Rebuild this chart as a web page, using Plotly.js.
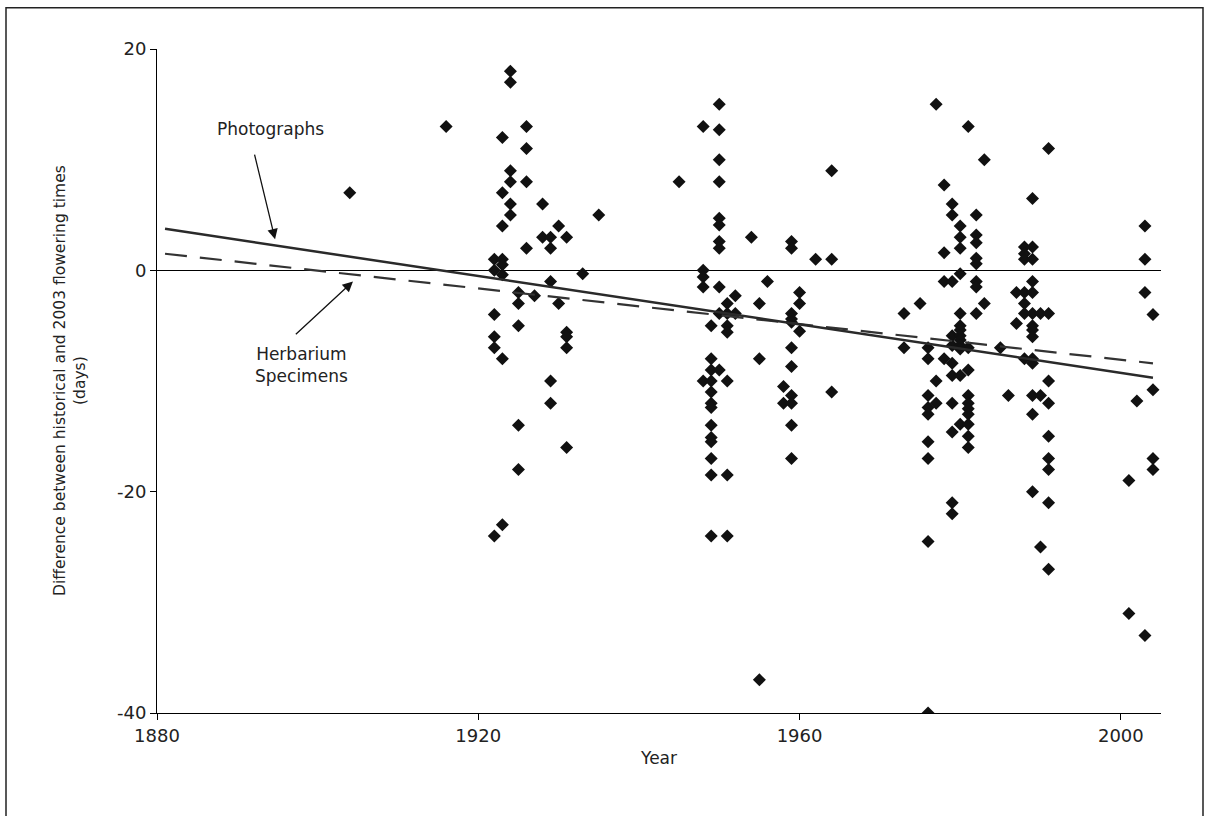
<!DOCTYPE html>
<html>
<head>
<meta charset="utf-8">
<script src="https://cdn.plot.ly/plotly-3.0.1.min.js"></script>
<style>
html,body{margin:0;padding:0;background:#fff;}
#chart{width:1209px;height:816px;}
</style>
</head>
<body>
<div id="chart"></div>
<script>
// Observations: year of record and difference (days) between historical and 2003 flowering time
const years = [
  1904, 1916,
  1922,1922,1922,1922,1922,1922,
  1923,1923,1923,1923,1923,1923,1923,1923,
  1924,1924,1924,1924,1924,1924,
  1925,1925,1925,1925,1925,
  1926,1926,1926,1926,
  1927, 1928,1928,
  1929,1929,1929,1929,1929,
  1930,1930,
  1931,1931,1931,1931,1931,
  1933, 1935, 1945,
  1948,1948,1948,1948,1948,
  1949,1949,1949,1949,1949,1949,1949,1949,1949,1949,1949,1949,1949,
  1950,1950,1950,1950,1950,1950,1950,1950,1950,1950,1950,
  1951,1951,1951,1951,1951,1951,1951,
  1952,1952, 1954,
  1955,1955,1955, 1956,
  1958,1958,
  1959,1959,1959,1959,1959,1959,1959,1959,1959,1959,1959,
  1960,1960,1960, 1962,
  1964,1964,1964,
  1973,1973, 1975,
  1976,1976,1976,1976,1976,1976,1976,1976,1976,
  1977,1977,1977,
  1978,1978,1978,1978,
  1979,1979,1979,1979,1979,1979,1979,1979,1979,1979,1979,
  1980,1980,1980,1980,1980,1980,1980,1980,1980,1980,1980,1980,1980,
  1981,1981,1981,1981,1981,1981,1981,1981,1981,1981,
  1982,1982,1982,1982,1982,1982,1982,1982,
  1983,1983, 1985, 1986,
  1987,1987,
  1988,1988,1988,1988,1988,1988,1988,
  1989,1989,1989,1989,1989,1989,1989,1989,1989,1989,1989,1989,1989,1989,
  1990,1990,1990,
  1991,1991,1991,1991,1991,1991,1991,1991,1991,
  2001,2001, 2002,
  2003,2003,2003,2003,
  2004,2004,2004,2004
];
const diffDays = [
  7, 13,
  1,0,-4,-6,-7,-24,
  12,7,4,1,0.5,-0.4,-8,-23,
  18,17,9,8,6,5,
  -2,-3,-5,-14,-18,
  13,11,8,2,
  -2.3, 6,3,
  3,2,-1,-10,-12,
  4,-3,
  3,-5.6,-6,-7,-16,
  -0.3, 5, 8,
  13,0,-0.6,-1.5,-10,
  -5,-8,-9,-10,-11,-12,-12.4,-14,-15.1,-15.5,-17,-18.5,-24,
  15,12.7,10,8,4.7,4.1,2.6,2,-1.5,-3.9,-9,
  -3,-3.9,-5,-5.6,-10,-18.5,-24,
  -2.3,-3.9, 3,
  -3,-8,-37, -1,
  -10.5,-12,
  2.6,2,-3.9,-4.4,-4.7,-7,-8.7,-11.3,-12,-14,-17,
  -2,-3,-5.5, 1,
  9,1,-11,
  -3.9,-7, -3,
  -7,-8,-11.3,-12.4,-13,-15.5,-17,-24.5,-40,
  15,-10,-12,
  7.7,1.6,-1,-8,
  6,5,-1,-5.9,-6.8,-8.4,-9.5,-12,-14.6,-21,-22,
  4,3,2,-0.3,-3.9,-5,-5.4,-5.9,-6.3,-6.8,-7.1,-9.5,-13.9,
  13,-7,-9,-11.3,-12,-12.5,-13,-13.9,-15,-16,
  5,3.2,2.5,1.1,0.6,-1,-1.5,-3.9,
  10,-3, -7, -11.3,
  -2,-4.8,
  2.1,1.5,1,-2,-3,-3.9,-8,
  6.5,2.1,1,-1,-2,-3.9,-5,-5.4,-6,-8,-8.4,-11.3,-13,-20,
  -3.9,-11.3,-25,
  11,-3.9,-10,-12,-15,-17,-18,-21,-27,
  -19,-31, -11.8,
  4,1,-2,-33,
  -4,-10.8,-17,-18
];

// Fitted trend lines (end points)
const fitYears = [1881, 2004];
const photoFit = [3.75, -9.7];
const herbFit = [1.5, -8.4];

// Tick labels
const xTicks = [1880, 1920, 1960, 2000];
const yTicks = [-40, -20, 0, 20];

const FONT = 'DejaVu Sans, Verdana, sans-serif';

const traces = [
  {
    x: years, y: diffDays, type: 'scatter', mode: 'markers',
    marker: {symbol: 'diamond', size: 10, color: '#111'},
    hoverinfo: 'x+y', showlegend: false
  },
  {
    x: fitYears, y: herbFit, type: 'scatter', mode: 'lines',
    line: {color: '#333', width: 2.2, dash: '22px,13px'},
    showlegend: false
  },
  {
    x: fitYears, y: photoFit, type: 'scatter', mode: 'lines',
    line: {color: '#2a2a2a', width: 2.5},
    showlegend: false
  }
];

const L = 157, R = 1161, T = 49.3, B = 713;
const pw = R - L, ph = B - T;
const px = v => (v - L) / pw;
const py = v => (B - v) / ph;

const layout = {
  width: 1209, height: 816,
  margin: {l: L, r: 1209 - R, t: T, b: 816 - B, pad: 0},
  paper_bgcolor: '#fff', plot_bgcolor: '#fff',
  font: {family: FONT, size: 18, color: '#222'},
  xaxis: {
    range: [1880, 2005], tickvals: xTicks, ticktext: xTicks.map(String),
    showgrid: false, zeroline: false, showline: true, linecolor: '#000', linewidth: 1,
    ticks: 'outside', ticklen: 6, tickcolor: '#000', tickfont: {size: 18, family: FONT, color: '#222'},
    fixedrange: true
  },
  yaxis: {
    range: [-40, 20], tickvals: yTicks, ticktext: yTicks.map(String),
    showgrid: false, zeroline: true, zerolinecolor: '#000', zerolinewidth: 1,
    showline: true, linecolor: '#000', linewidth: 1,
    ticks: 'outside', ticklen: 6, tickcolor: '#000', tickfont: {size: 18, family: FONT, color: '#222'},
    fixedrange: true
  },
  shapes: [
    {type: 'path', xref: 'paper', yref: 'paper',
     path: `M ${px(6)} ${py(830)} L ${px(6)} ${py(8)} L ${px(1203)} ${py(8)} L ${px(1203)} ${py(830)}`,
     line: {color: '#222', width: 1.5}}
  ],
  annotations: [
    {text: 'Photographs', x: px(270), y: py(129), xref: 'paper', yref: 'paper',
     showarrow: false, xanchor: 'center', yanchor: 'middle', font: {size: 17, family: FONT, color: '#222'}},
    {text: '', x: 1894.7, y: 2.8, xref: 'x', yref: 'y', ax: 1892.1, ay: 10.6, axref: 'x', ayref: 'y',
     showarrow: true, arrowhead: 2, arrowsize: 1.6, arrowwidth: 1.3, arrowcolor: '#111', standoff: 0},
    {text: 'Herbarium<br>Specimens', x: px(301), y: py(365), xref: 'paper', yref: 'paper',
     showarrow: false, xanchor: 'center', yanchor: 'middle', font: {size: 17, family: FONT, color: '#222'}},
    {text: '', x: 1904.4, y: -1.0, xref: 'x', yref: 'y', ax: 1897.1, ay: -5.9, axref: 'x', ayref: 'y',
     showarrow: true, arrowhead: 2, arrowsize: 1.6, arrowwidth: 1.3, arrowcolor: '#111', standoff: 0},
    {text: 'Difference between historical and 2003 flowering times<br>(days)', textangle: -90,
     x: px(70), y: 0.5, xref: 'paper', yref: 'paper', showarrow: false,
     xanchor: 'center', yanchor: 'middle', font: {size: 15.5, family: FONT, color: '#222'}},
    {text: 'Year', x: px(658), y: py(758), xref: 'paper', yref: 'paper', showarrow: false,
     xanchor: 'center', yanchor: 'middle', font: {size: 17, family: FONT, color: '#222'}}
  ]
};

Plotly.newPlot('chart', traces, layout, {staticPlot: true, displayModeBar: false});
</script>
</body>
</html>
